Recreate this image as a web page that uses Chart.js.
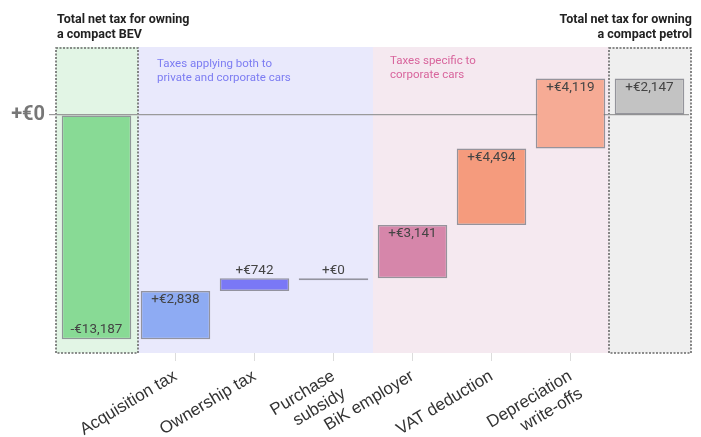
<!DOCTYPE html>
<html>
<head>
<meta charset="utf-8">
<script src="https://cdn.jsdelivr.net/npm/chart.js@4"></script>
<style>
  html, body { margin: 0; padding: 0; background: #fff; }
  #wrap { width: 701px; height: 437px; }
</style>
</head>
<body>
<div id="wrap"><canvas id="waterfall" width="701" height="437"></canvas></div>
<script>
// data
const categories = ['', 'Acquisition tax', 'Ownership tax', ['Purchase', 'subsidy'], 'BiK employer', 'VAT deduction', ['Depreciation', 'write-offs'], ''];
const bevTotal = -13187;
const steps = [2838, 742, 0, 3141, 4494, 4119];
const petrolTotal = 2147;
const yTicks = [0];
const barColors = ['#88da95', '#8eabf3', '#7a78f6', '#8d8d9c', '#d686aa', '#f59b7d', '#f6ab95', '#c3c3c3'];
const zoneColors = ['#e2f5e5', '#e9e9fc', '#f5e9f0', '#efefef'];

// build floating bars for the waterfall
const floats = [[0, bevTotal]];
const shown = [bevTotal];
let run = bevTotal;
for (const s of steps) {
    floats.push([run, run + s]);
    shown.push(s);
    run += s;
}
floats.push([0, petrolTotal]);
shown.push(petrolTotal);

function fmt(v) {
    return (v < 0 ? '-€' : '+€') + Math.abs(v).toLocaleString('en-US');
}

// background zones + dotted boxes behind everything
const zones = {
    id: 'zones',
    beforeDraw(chart) {
        const {ctx, chartArea, scales: {x}} = chart;
        const half = (x.getPixelForValue(1) - x.getPixelForValue(0)) / 2;
        const top = chartArea.top, bottom = chartArea.bottom;
        const edge = i => x.getPixelForValue(i) - half;
        ctx.save();
        // blue band: idx 1..3, pink band: idx 4..6
        ctx.fillStyle = zoneColors[1];
        ctx.fillRect(edge(1), top, edge(4) - edge(1), bottom - top);
        ctx.fillStyle = zoneColors[2];
        ctx.fillRect(edge(4), top, edge(7) - edge(4), bottom - top);
        // dotted boxes for the two totals
        [[0, zoneColors[0]], [7, zoneColors[3]]].forEach(([i, c]) => {
            const l = edge(i) - 1, r = edge(i + 1) + 2;
            ctx.fillStyle = c;
            ctx.fillRect(l, top, r - l, bottom - top);
            ctx.setLineDash([2, 1.5]);
            ctx.lineWidth = 1.6;
            ctx.strokeStyle = '#6a6a6a';
            ctx.strokeRect(l, top + 1, r - l, bottom - top - 1);
        });
        ctx.setLineDash([]);

        // headings above the total boxes
        ctx.fillStyle = '#222';
        ctx.font = 'bold 12.5px Roboto';
        ctx.textBaseline = 'middle';
        ctx.textAlign = 'left';
        ctx.fillText('Total net tax for owning', edge(0), 20);
        ctx.fillText('a compact BEV', edge(0), 35);
        ctx.textAlign = 'right';
        ctx.fillText('Total net tax for owning', edge(8) + 3, 20);
        ctx.fillText('a compact petrol', edge(8) + 3, 35);

        // zone notes
        ctx.textAlign = 'left';
        ctx.font = '11.5px Roboto';
        ctx.fillStyle = '#7c7cf2';
        ctx.fillText('Taxes applying both to', edge(1) + 21, 64);
        ctx.fillText('private and corporate cars', edge(1) + 21, 78);
        ctx.fillStyle = '#d8649c';
        ctx.fillText('Taxes specific to', edge(4) + 17, 61);
        ctx.fillText('corporate cars', edge(4) + 17, 75);
        ctx.restore();
    }
};

// value labels on the bars
const barLabels = {
    id: 'barLabels',
    afterDraw(chart) {
        const {ctx} = chart;
        const meta = chart.getDatasetMeta(0);
        ctx.save();
        ctx.font = '13.5px Roboto';
        ctx.fillStyle = '#444';
        ctx.textAlign = 'center';
        meta.data.forEach((bar, i) => {
            const top = Math.min(bar.y, bar.base);
            const bot = Math.max(bar.y, bar.base);
            const txt = fmt(shown[i]);
            if (shown[i] < 0) {
                ctx.textBaseline = 'bottom';
                ctx.fillText(txt, bar.x, bot - 3);
            } else if (bot - top > 25) {
                ctx.textBaseline = 'top';
                ctx.fillText(txt, bar.x, top + 2);
            } else {
                ctx.textBaseline = 'bottom';
                ctx.fillText(txt, bar.x, top - 1);
            }
        });
        ctx.restore();
    }
};

const ctx = document.getElementById('waterfall');

const graph = {
    type: 'bar',
    data: {
        labels: categories,
        datasets: [{
            data: floats,
            backgroundColor: barColors,
            borderColor: 'rgba(110,110,120,0.7)',
            borderWidth: 1.5,
            borderSkipped: false,
            minBarLength: 2,
            barPercentage: 0.88,
            categoryPercentage: 1
        }]
    },
    options: {
        responsive: false,
        animation: false,
        devicePixelRatio: 1,
        layout: { padding: { top: 47, right: 12, left: 0, bottom: 0 } },
        plugins: {
            legend: { display: false },
            tooltip: { enabled: false }
        },
        scales: {
            x: {
                border: { display: false },
                grid: {
                    offset: false,
                    drawOnChartArea: false,
                    tickLength: 8,
                    color: c => (c.index === 0 || c.index === 7) ? 'rgba(0,0,0,0)' : '#dcdcdc'
                },
                ticks: {
                    minRotation: 31,
                    maxRotation: 31,
                    autoSkip: false,
                    color: '#333',
                    font: { family: 'Liberation Sans', size: 17 },
                    padding: 5
                },
                afterFit: s => { s.height = 84; }
            },
            y: {
                min: -14000,
                max: 4000,
                z: 1,
                border: { display: false },
                afterBuildTicks: s => { s.ticks = yTicks.map(v => ({value: v})); },
                grid: {
                    color: '#9a9a9a',
                    lineWidth: 1.2,
                    tickLength: 8
                },
                ticks: {
                    callback: v => fmt(v),
                    color: '#777',
                    font: { family: 'Roboto', size: 20, weight: 'bold' },
                    padding: 4
                },
                afterFit: s => { s.width = 57; }
            }
        }
    },
    plugins: [zones, barLabels]
};

window.chart = new Chart(ctx, graph);
</script>
</body>
</html>
